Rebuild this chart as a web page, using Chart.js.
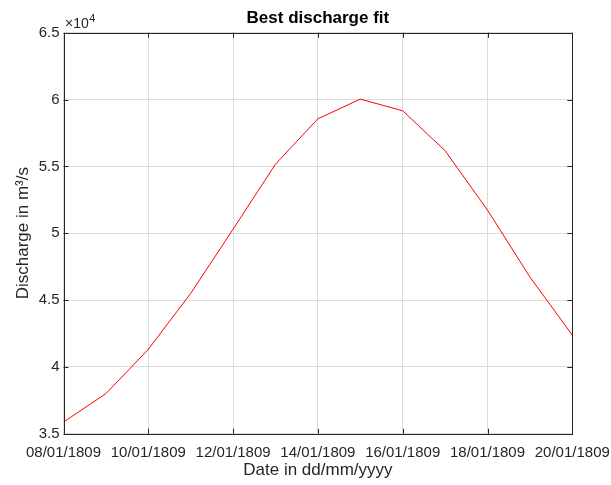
<!DOCTYPE html>
<html>
<head>
<meta charset="utf-8">
<script src="https://cdn.jsdelivr.net/npm/chart.js@4"></script>
<style>
html,body{margin:0;padding:0;background:#fff;}
#wrap{width:611px;height:485px;position:relative;}
</style>
</head>
<body>
<div id="wrap"><canvas id="c" width="611" height="485"></canvas></div>
<script>
const days = ["08/01/1809","09/01/1809","10/01/1809","11/01/1809","12/01/1809","13/01/1809","14/01/1809","15/01/1809","16/01/1809","17/01/1809","18/01/1809","19/01/1809","20/01/1809"];
const discharge = [35870, 38000, 41310, 45500, 50300, 55170, 58560, 60030, 59160, 56170, 51730, 46720, 42380];
const xTickLabels = ["08/01/1809","10/01/1809","12/01/1809","14/01/1809","16/01/1809","18/01/1809","20/01/1809"];
const yTickValues = [35000, 40000, 45000, 50000, 55000, 60000, 65000];

const FONT = "'Liberation Sans', Arial, Helvetica, sans-serif";
const TXT = "#262626";

const decor = {
  id: 'decor',
  afterDraw(chart) {
    const ctx = chart.ctx;
    const a = chart.chartArea;
    const xs = chart.scales.x, ys = chart.scales.y;
    ctx.save();
    ctx.strokeStyle = TXT;
    ctx.lineWidth = 1;
    ctx.strokeRect(Math.round(a.left) + 0.5, Math.round(a.top) + 0.5, Math.round(a.right) - Math.round(a.left), Math.round(a.bottom) - Math.round(a.top));
    const tl = 5;
    ctx.beginPath();
    xs.ticks.forEach(t => {
      const px = Math.round(xs.getPixelForValue(t.value)) + 0.5;
      ctx.moveTo(px, a.bottom); ctx.lineTo(px, a.bottom - tl);
      ctx.moveTo(px, a.top); ctx.lineTo(px, a.top + tl);
    });
    ys.ticks.forEach(t => {
      const py = Math.round(ys.getPixelForValue(t.value)) + 0.5;
      ctx.moveTo(a.left, py); ctx.lineTo(a.left + tl, py);
      ctx.moveTo(a.right, py); ctx.lineTo(a.right - tl, py);
    });
    ctx.stroke();
    const cx = (a.left + a.right) / 2;
    ctx.fillStyle = "#000";
    ctx.font = "bold 17px " + FONT;
    ctx.textAlign = "center";
    ctx.textBaseline = "alphabetic";
    ctx.fillText("Best discharge fit", cx, 23);
    ctx.fillStyle = TXT;
    ctx.font = "17px " + FONT;
    ctx.fillText("Date in dd/mm/yyyy", cx, 475);
    ctx.save();
    ctx.translate(28, (a.top + a.bottom) / 2);
    ctx.rotate(-Math.PI / 2);
    ctx.fillText("Discharge in m\u00B3/s", 0, 0);
    ctx.restore();
    ctx.textAlign = "left";
    ctx.font = "14px " + FONT;
    const base = "\u00D710";
    ctx.fillText(base, 65, 28);
    const w = ctx.measureText(base).width;
    ctx.font = "11px " + FONT;
    ctx.fillText("4", 65 + w + 0.5, 22);
    ctx.restore();
  }
};

new Chart(document.getElementById('c'), {
  type: 'line',
  data: {
    datasets: [{
      data: discharge.map((v, i) => ({x: i, y: v})),
      borderColor: '#ff0000',
      borderWidth: 1,
      pointRadius: 0,
      tension: 0,
      fill: false
    }]
  },
  options: {
    responsive: false,
    animation: false,
    devicePixelRatio: 1,
    layout: {padding: {left: 0, right: 38.7, top: 32.7, bottom: 0}},
    plugins: {legend: {display: false}, tooltip: {enabled: false}, title: {display: false}},
    scales: {
      x: {
        type: 'linear',
        min: 0, max: days.length - 1,
        afterBuildTicks(s) { s.ticks = xTickLabels.map(l => ({value: days.indexOf(l)})); },
        afterFit(s) { s.height = 51.3; s.paddingLeft = 0; s.paddingRight = 0; },
        ticks: {
          callback: (v) => days[v],
          color: TXT, font: {family: FONT, size: 15}, padding: 10, maxRotation: 0, autoSkip: false
        },
        grid: {color: '#dcdcdc', drawTicks: false, lineWidth: 1},
        border: {display: false}
      },
      y: {
        min: 35000, max: 65000,
        afterBuildTicks(s) { s.ticks = yTickValues.map(v => ({value: v})); },
        afterFit(s) { s.width = 63.5; s.paddingTop = 0; s.paddingBottom = 0; },
        ticks: {
          callback: (v) => String(v / 10000),
          color: TXT, font: {family: FONT, size: 15}, padding: 4
        },
        grid: {color: '#dcdcdc', drawTicks: false, lineWidth: 1},
        border: {display: false}
      }
    }
  },
  plugins: [decor]
});
</script>
</body>
</html>
